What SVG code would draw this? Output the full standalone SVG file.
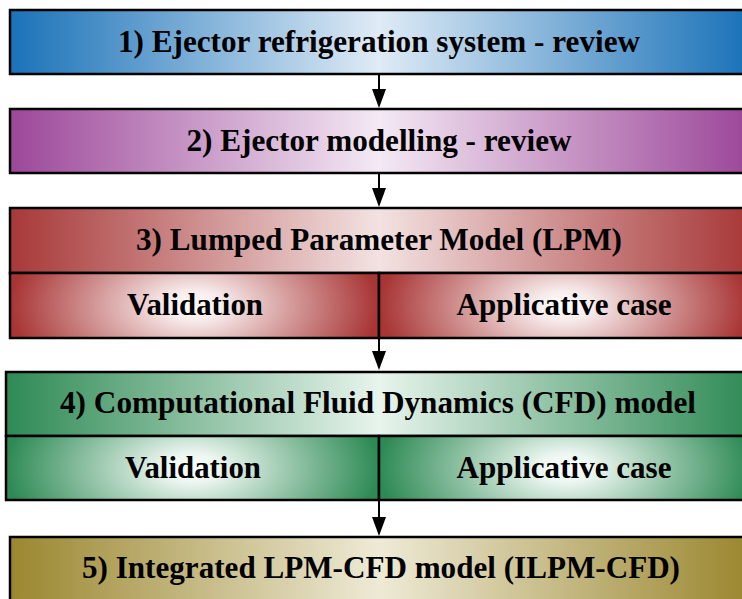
<svg xmlns="http://www.w3.org/2000/svg" width="742" height="599" viewBox="0 0 742 599">
<style>
.box{stroke:#000;stroke-width:2.5}
.t{font-family:"Liberation Serif",Tinos,"Times New Roman","DejaVu Serif",serif;font-weight:bold;font-size:31px;fill:#000;text-anchor:middle}
.arr{stroke:#000;stroke-width:2;fill:none;marker-end:url(#ah)}
</style>
<defs>
<marker id="ah" viewBox="0 0 19 14" refX="15" refY="7" markerWidth="19" markerHeight="14" markerUnits="userSpaceOnUse" orient="auto">
<path d="M0,0 L19,7 L0,14 Z" fill="#000"/>
</marker>
<linearGradient id="gBlue" x1="0" y1="0" x2="1" y2="0">
<stop offset="0" stop-color="#1a72b8"/><stop offset="0.5" stop-color="#dfebf6"/><stop offset="1" stop-color="#1a72b8"/>
</linearGradient>
<linearGradient id="gPurple" x1="0" y1="0" x2="1" y2="0">
<stop offset="0" stop-color="#9c4799"/><stop offset="0.5" stop-color="#f4e9f4"/><stop offset="1" stop-color="#9c4799"/>
</linearGradient>
<linearGradient id="gRed" x1="0" y1="0" x2="1" y2="0">
<stop offset="0" stop-color="#a83838"/><stop offset="0.5" stop-color="#f3e2e2"/><stop offset="1" stop-color="#a83838"/>
</linearGradient>
<linearGradient id="gGreen" x1="0" y1="0" x2="1" y2="0">
<stop offset="0" stop-color="#2e8a55"/><stop offset="0.5" stop-color="#e8f4ec"/><stop offset="1" stop-color="#2e8a55"/>
</linearGradient>
<linearGradient id="gGold" x1="0" y1="0" x2="1" y2="0">
<stop offset="0" stop-color="#9b8730"/><stop offset="0.5" stop-color="#eeead6"/><stop offset="1" stop-color="#9b8730"/>
</linearGradient>
<radialGradient id="rRed" cx="0.5" cy="0.5" r="0.5" gradientTransform="translate(0.5,0.5) scale(1,3) translate(-0.5,-0.5)">
<stop offset="0" stop-color="#ffffff"/><stop offset="0.15" stop-color="#f8ecec"/><stop offset="1" stop-color="#a83434"/>
</radialGradient>
<radialGradient id="rGreen" cx="0.5" cy="0.5" r="0.5" gradientTransform="translate(0.5,0.5) scale(1,3) translate(-0.5,-0.5)">
<stop offset="0" stop-color="#ffffff"/><stop offset="0.15" stop-color="#ecf6f0"/><stop offset="1" stop-color="#2e8a55"/>
</radialGradient>
</defs>

<g id="node1">
<rect class="box" x="10" y="10" width="738" height="64" fill="url(#gBlue)"/>
<text class="t" x="379" y="52" textLength="522" lengthAdjust="spacingAndGlyphs">1) Ejector refrigeration system - review</text>
</g>

<g id="node2">
<rect class="box" x="10" y="109" width="738" height="64" fill="url(#gPurple)"/>
<text class="t" x="379" y="151" textLength="385" lengthAdjust="spacingAndGlyphs">2) Ejector modelling - review</text>
</g>

<g id="node3">
<rect class="box" x="10" y="208" width="738" height="65" fill="url(#gRed)"/>
<rect class="box" x="10" y="273" width="369" height="65" fill="url(#rRed)"/>
<rect class="box" x="379" y="273" width="369" height="65" fill="url(#rRed)"/>
<text class="t" x="379" y="250" textLength="486" lengthAdjust="spacingAndGlyphs">3) Lumped Parameter Model (LPM)</text>
<text class="t" x="195" y="315" textLength="136" lengthAdjust="spacingAndGlyphs">Validation</text>
<text class="t" x="564" y="315" textLength="215" lengthAdjust="spacingAndGlyphs">Applicative case</text>
</g>

<g id="node4">
<rect class="box" x="6" y="372" width="746" height="64" fill="url(#gGreen)"/>
<rect class="box" x="6" y="436" width="373" height="64" fill="url(#rGreen)"/>
<rect class="box" x="379" y="436" width="373" height="64" fill="url(#rGreen)"/>
<text class="t" x="378" y="413" textLength="636" lengthAdjust="spacingAndGlyphs">4) Computational Fluid Dynamics (CFD) model</text>
<text class="t" x="193" y="478" textLength="136" lengthAdjust="spacingAndGlyphs">Validation</text>
<text class="t" x="564" y="478" textLength="215" lengthAdjust="spacingAndGlyphs">Applicative case</text>
</g>

<g id="node5">
<rect class="box" x="10" y="537" width="738" height="70" fill="url(#gGold)"/>
<text class="t" x="381" y="578" textLength="598" lengthAdjust="spacingAndGlyphs">5) Integrated LPM-CFD model (ILPM-CFD)</text>
</g>

<g id="connectors">
<line class="arr" x1="379" y1="75" x2="379" y2="104"/>
<line class="arr" x1="379" y1="174" x2="379" y2="203"/>
<line class="arr" x1="379" y1="273" x2="379" y2="366"/>
<line class="arr" x1="379" y1="436" x2="379" y2="532"/>
</g>
</svg>
